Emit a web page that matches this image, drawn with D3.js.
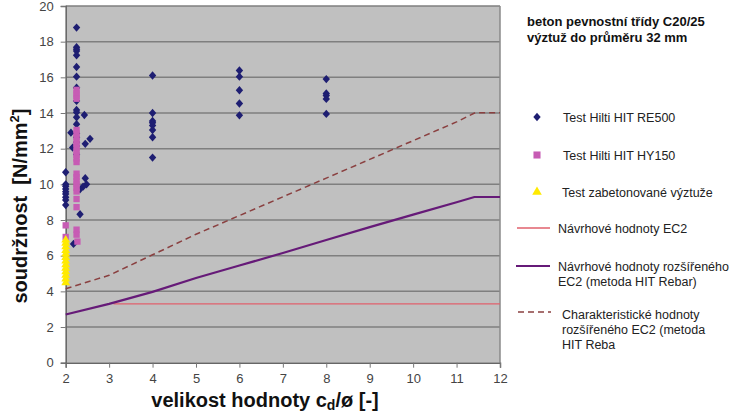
<!DOCTYPE html>
<html>
<head>
<meta charset="utf-8">
<script src="https://cdn.jsdelivr.net/npm/d3@7"></script>
<style>
  html, body { margin: 0; padding: 0; background: #fff; }
  svg { display: block; font-family: Arial, "Liberation Sans", sans-serif; }
  .tick text { fill: #444; font-size: 13px; }
  .tick line { stroke: #777; }
  .lg { font-size: 12.5px; fill: #222; }
</style>
</head>
<body>
<svg id="chart" width="737" height="415"></svg>
<script>
"use strict";
// bond strength tests vs. cd/ø, with EC2 design curves

// Test Hilti HIT RE500 (diamonds)
const re500X = [2, 2, 2, 2, 2, 2, 2, 2, 2,
  2.25, 2.25, 2.25, 2.25, 2.25, 2.25, 2.25, 2.25, 2.25, 2.25, 2.25, 2.25, 2.25, 2.25, 2.25, 2.25, 2.25, 2.25,
  2.12, 2.16, 2.43, 2.45, 2.56, 2.45, 2.48, 2.4, 2.33, 2.33, 2.18,
  4, 4, 4, 4, 4, 4, 4, 4,
  6, 6, 6, 6, 6,
  8, 8, 8, 8, 8];
const re500Y = [10.68, 10.0, 9.89, 9.74, 9.59, 9.46, 9.28, 9.12, 8.84,
  18.79, 17.69, 17.58, 17.48, 17.24, 16.58, 16.04, 15.42, 14.68, 14.17, 14.04, 13.76, 13.37, 12.86, 12.64, 12.36, 12.15, 11.68,
  12.9, 12.06, 13.89, 12.27, 12.55, 10.34, 10.0, 9.87, 9.72, 8.32, 6.66,
  16.1, 14.0, 13.55, 13.46, 13.3, 13.05, 12.64, 11.5,
  16.38, 16.04, 15.28, 14.53, 13.87,
  15.9, 15.09, 14.98, 14.79, 13.95];

// Test Hilti HIT HY150 (squares)
const hy150X = [2.25, 2.25, 2.25, 2.25, 2.25, 2.25, 2.25, 2.25, 2.25, 2.25, 2.25, 2.25, 2.25, 2.25,
  2.25, 2.25, 2.25, 2.25, 2.25, 2.25, 2.25, 2.25, 2.25, 2.25, 2.27, 2, 2];
const hy150Y = [15.3, 15.1, 14.96, 14.8, 13.05, 12.85, 12.65, 12.45, 12.25, 12.05, 11.85, 11.65, 11.45, 11.25,
  10.6, 10.4, 10.2, 10.0, 9.8, 9.6, 9.18, 8.72, 7.46, 7.18, 6.79, 7.7, 7.05];

// Test zabetonované výztuže (triangles)
const castX = [2, 2, 2, 2, 2, 2, 2, 2, 2, 2, 2, 2, 2];
const castY = [6.88, 6.7, 6.5, 6.3, 6.1, 5.9, 5.7, 5.5, 5.3, 5.1, 4.9, 4.7, 4.48];

// Návrhové hodnoty EC2
const ec2X = [3.1, 12];
const ec2Y = [3.3, 3.3];

// Návrhové hodnoty rozšířeného EC2 (HIT Rebar)
const rebarX = [2, 3, 4, 5, 6, 7, 8, 9, 10, 11, 11.41, 12];
const rebarY = [2.7, 3.3, 3.97, 4.75, 5.45, 6.15, 6.88, 7.6, 8.3, 9.0, 9.29, 9.29];

// Charakteristické hodnoty rozšířeného EC2
const charX = [2, 3, 4, 5, 6, 7, 8, 9, 10, 11, 11.43, 12];
const charY = [4.15, 4.9, 6.05, 7.2, 8.25, 9.3, 10.35, 11.4, 12.45, 13.5, 14.02, 14.02];

const xTicks = [2, 3, 4, 5, 6, 7, 8, 9, 10, 11, 12];
const yTicks = [0, 2, 4, 6, 8, 10, 12, 14, 16, 18, 20];

const legendLabels = [
  ["Test Hilti HIT RE500"],
  ["Test Hilti HIT HY150"],
  ["Test zabetonované výztuže"],
  ["Návrhové hodnoty EC2"],
  ["Návrhové hodnoty rozšířeného", "EC2 (metoda HIT Rebar)"],
  ["Charakteristické hodnoty", "rozšířeného EC2 (metoda", "HIT Reba"]
];

const C = { blue: "#1e1e72", pink: "#c75cb4", yellow: "#ffea00", red: "#e0606c", purple: "#661a78", brown: "#8a4040" };

const svg = d3.select("#chart");
const x = d3.scaleLinear().domain([2, 12]).range([65.7, 500]);
const y = d3.scaleLinear().domain([0, 20]).range([362.7, 6]);

// plot area
svg.append("rect").attr("x", x(2)).attr("y", y(20))
  .attr("width", x(12) - x(2)).attr("height", y(0) - y(20)).attr("fill", "#c0c0c0");

svg.append("g").selectAll("line").data(yTicks.slice(1)).join("line")
  .attr("x1", x(2)).attr("x2", x(12)).attr("y1", (d) => y(d)).attr("y2", (d) => y(d))
  .attr("stroke", "#7f7f7f").attr("stroke-width", 1.5);
svg.append("line").attr("x1", x(12)).attr("x2", x(12)).attr("y1", y(0)).attr("y2", y(20))
  .attr("stroke", "#8a8a8a").attr("stroke-width", 1.5);

const xAxis = svg.append("g").attr("transform", `translate(0,${y(0)})`)
  .call(d3.axisBottom(x).tickValues(xTicks).tickSize(5).tickPadding(6).tickFormat(d3.format("d")));
const yAxis = svg.append("g").attr("transform", `translate(${x(2)},0)`)
  .call(d3.axisLeft(y).tickValues(yTicks).tickSize(5).tickPadding(7).tickFormat(d3.format("d")));
[xAxis, yAxis].forEach((a) => a.select(".domain").attr("stroke", "#666").attr("stroke-width", 1.5));

// lines
const line = d3.line().x((d) => x(d[0])).y((d) => y(d[1]));
const zip = (a, b) => a.map((v, i) => [v, b[i]]);
svg.append("path").datum(zip(ec2X, ec2Y)).attr("d", line).attr("fill", "none")
  .attr("stroke", C.red).attr("stroke-width", 1.3);
svg.append("path").datum(zip(charX, charY)).attr("d", line).attr("fill", "none")
  .attr("stroke", C.brown).attr("stroke-width", 1.5).attr("stroke-dasharray", "6,4");
svg.append("path").datum(zip(rebarX, rebarY)).attr("d", line).attr("fill", "none")
  .attr("stroke", C.purple).attr("stroke-width", 2.2);

// markers, in series order (later series on top)
const sym = (type, size) => d3.symbol().type(type).size(size)();
const diamond = "M0,-4.2L3.7,0L0,4.2L-3.7,0Z";
svg.append("g").selectAll("path").data(zip(re500X, re500Y)).join("path")
  .attr("transform", (d) => `translate(${x(d[0])},${y(d[1])})`)
  .attr("d", diamond).attr("fill", C.blue);
svg.append("g").selectAll("path").data(zip(hy150X, hy150Y)).join("path")
  .attr("transform", (d) => `translate(${x(d[0])},${y(d[1])})`)
  .attr("d", sym(d3.symbolSquare, 40)).attr("fill", C.pink);
svg.append("g").selectAll("path").data(zip(castX, castY)).join("path")
  .attr("transform", (d) => `translate(${x(d[0])},${y(d[1])})`)
  .attr("d", sym(d3.symbolTriangle, 34)).attr("fill", C.yellow);

// axis titles
svg.append("text").attr("x", 265).attr("y", 407).attr("text-anchor", "middle")
  .attr("font-size", 20).attr("font-weight", "bold").attr("fill", "#111")
  .html('velikost hodnoty c<tspan font-size="14" dy="3">d</tspan><tspan dy="-3">/ø [-]</tspan>');
svg.append("text").attr("transform", "translate(27,206) rotate(-90)").attr("text-anchor", "middle")
  .attr("font-size", 20).attr("font-weight", "bold").attr("fill", "#111")
  .html('soudržnost\u00a0\u00a0[N/mm<tspan font-size="13" dy="-8">2</tspan><tspan dy="8">]</tspan>');

// legend
const note = svg.append("text").attr("font-size", 13).attr("font-weight", "bold").attr("fill", "#111");
note.append("tspan").attr("x", 527).attr("y", 26).text("beton pevnostní třídy C20/25");
note.append("tspan").attr("x", 527).attr("y", 42).text("výztuž do průměru 32 mm");

const itemY = [117, 155, 192, 228, 266, 314];
const lg = svg.append("g");
lg.append("path").attr("transform", `translate(537,${itemY[0]})`).attr("d", diamond).attr("fill", C.blue);
lg.append("path").attr("transform", `translate(537,${itemY[1]})`).attr("d", sym(d3.symbolSquare, 50)).attr("fill", C.pink);
lg.append("path").attr("transform", `translate(537,${itemY[2]})`).attr("d", sym(d3.symbolTriangle, 40)).attr("fill", C.yellow);
lg.append("line").attr("x1", 517).attr("x2", 550).attr("y1", itemY[3]).attr("y2", itemY[3])
  .attr("stroke", C.red).attr("stroke-width", 1.3);
lg.append("line").attr("x1", 516).attr("x2", 550).attr("y1", itemY[4]).attr("y2", itemY[4])
  .attr("stroke", C.purple).attr("stroke-width", 2.2);
lg.append("line").attr("x1", 518).attr("x2", 551).attr("y1", itemY[5] - 2).attr("y2", itemY[5] - 2)
  .attr("stroke", C.brown).attr("stroke-width", 1.5).attr("stroke-dasharray", "6,4");

const textX = [563, 563, 562, 558, 558, 562];
legendLabels.forEach((lines, i) => {
  const t = lg.append("text").attr("class", "lg");
  lines.forEach((s, j) => {
    t.append("tspan").attr("x", textX[i]).attr("y", itemY[i] + 4.5 + j * 15.3).text(s);
  });
});
</script>
</body>
</html>
